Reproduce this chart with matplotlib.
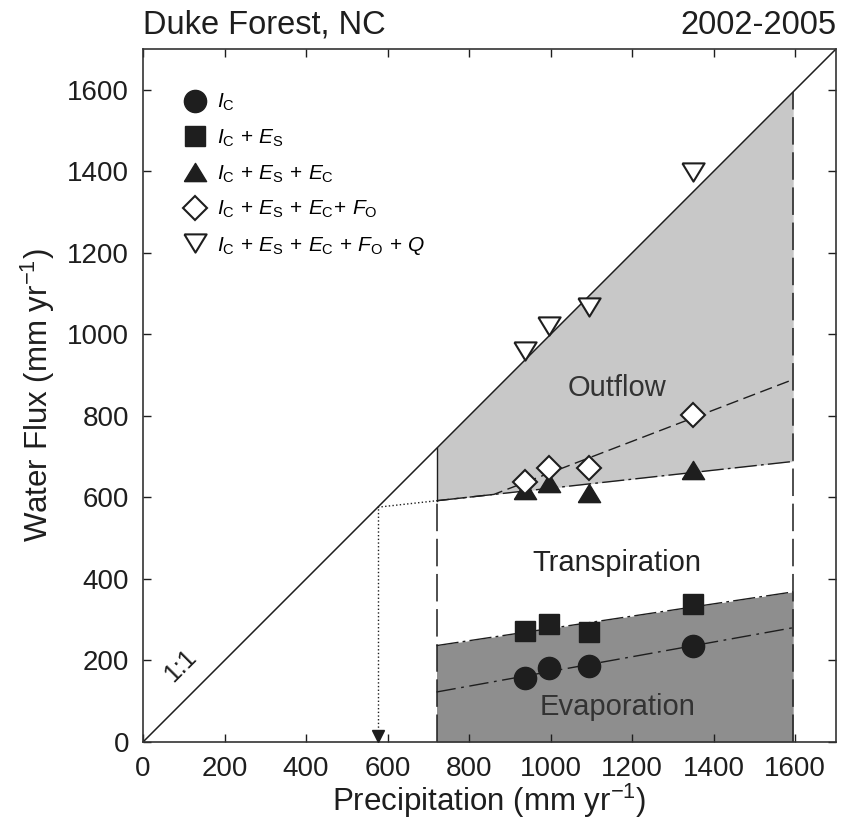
import numpy as np
import matplotlib
matplotlib.use("Agg")
import matplotlib.pyplot as plt
import matplotlib.transforms as mtransforms
from matplotlib.lines import Line2D

plt.rcParams['font.family'] = ['Liberation Sans', 'DejaVu Sans']
plt.rcParams['mathtext.fontset'] = 'custom'
plt.rcParams['mathtext.rm'] = 'Liberation Sans'
plt.rcParams['mathtext.it'] = 'Liberation Sans:italic'
plt.rcParams['mathtext.bf'] = 'Liberation Sans:bold'

# --- Data ---
precip = np.array([936, 995, 1094, 1349])          # mm/yr, 2002-2005
ic = np.array([156, 181, 187, 236])                # I_C
ic_es = np.array([273, 289, 271, 338])             # I_C + E_S
ic_es_ec = np.array([618, 636, 610, 668])          # + E_C
ic_es_ec_fo = np.array([639, 673, 673, 802])       # + F_O
ic_es_ec_fo_q = np.array([960, 1020, 1066, 1398])  # + Q

# long-term precipitation range
p_min, p_max = 720, 1595

labels = [r'$I_\mathrm{C}$',
          r'$I_\mathrm{C}\,+\,E_\mathrm{S}$',
          r'$I_\mathrm{C}\,+\,E_\mathrm{S}\,+\,E_\mathrm{C}$',
          r'$I_\mathrm{C}\,+\,E_\mathrm{S}\,+\,E_\mathrm{C}\!+\,F_\mathrm{O}$',
          r'$I_\mathrm{C}\,+\,E_\mathrm{S}\,+\,E_\mathrm{C}\,+\,F_\mathrm{O}\,+\,Q$']

ink = '#1e1e1e'
light_gray = '#c8c8c8'
dark_gray = '#8e8e8e'

def fit(y):
    b, a = np.polyfit(precip, y, 1)
    return lambda x: a + b * x

f_ic, f_es, f_ec, f_fo = fit(ic), fit(ic_es), fit(ic_es_ec), fit(ic_es_ec_fo)

fig = plt.figure(figsize=(8.46, 8.23), dpi=100)
ax = fig.add_axes([143/846, 1 - 742/823, 693/846, 693/823])

xs = np.linspace(p_min, p_max, 200)

# shaded regions
ax.fill_between(xs, 0, f_es(xs), color=dark_gray, lw=0, zorder=1)
ax.fill_between(xs, f_ec(xs), xs, color=light_gray, lw=0, zorder=1)

# 1:1 line
one = np.array([0, 1700])
ax.plot(one, one, color=ink, lw=1.1, zorder=2)

# range boundaries
ax.plot([p_min, p_min], [0, f_ec(p_min)], color=ink, lw=1.1, dashes=(18, 5), zorder=2)
ax.plot([p_min, p_min], [f_ec(p_min), p_min], color=ink, lw=1.0, zorder=2)
ax.plot([p_max, p_max], [0, p_max], color=ink, lw=1.1, dashes=(18, 5), zorder=2)

# regression lines
ax.plot(xs, f_ic(xs), color=ink, lw=1.0, dashes=(14, 4, 2, 4), zorder=2)
ax.plot(xs, f_es(xs), color=ink, lw=1.0, dashes=(16, 3, 2, 3), zorder=2)
ax.plot(xs, f_ec(xs), color=ink, lw=1.0, dashes=(16, 3, 2, 3), zorder=2)
ax.plot(xs, np.maximum(f_fo(xs), f_ec(xs)), color=ink, lw=1.0, dashes=(9, 4), zorder=2)

# extrapolation of E_C fit back to the 1:1 line
b_ec = f_ec(1) - f_ec(0)
p_cross = f_ec(0) / (1 - b_ec)
xd = np.array([p_cross, p_min])
ax.plot(xd, f_ec(xd), color=ink, lw=1.0, ls=':', zorder=2)
ax.plot([p_cross, p_cross], [0, p_cross], color=ink, lw=1.0, ls=':', zorder=2)
arrow_tr = mtransforms.offset_copy(ax.transData, fig=fig, y=4, units='points')
ax.plot([p_cross], [0], marker='v', ms=8, color=ink, transform=arrow_tr,
        clip_on=False, zorder=3)

# markers
tri_up = [(-1, -0.82), (1, -0.82), (0, 0.82), (-1, -0.82)]
tri_dn = [(-1, 0.82), (1, 0.82), (0, -0.82), (-1, 0.82)]
mstyle = [dict(marker='o', ms=16, mfc=ink, mec=ink),
          dict(marker='s', ms=14.5, mfc=ink, mec=ink),
          dict(marker=tri_up, ms=16, mfc=ink, mec=ink),
          dict(marker='D', ms=12.5, mfc='white', mec=ink, mew=1.5),
          dict(marker=tri_dn, ms=16, mfc='white', mec=ink, mew=1.5)]
series = [ic, ic_es, ic_es_ec, ic_es_ec_fo, ic_es_ec_fo_q]
for i, (ys, st) in enumerate(zip(series, mstyle)):
    ax.plot(precip, ys, ls='none', zorder=4 + i, **st)

# region labels
ax.text(1163, 869, 'Outflow', ha='center', va='center', fontsize=21, color='#333333', zorder=10)
ax.text(1163, 439, 'Transpiration', ha='center', va='center', fontsize=21, color='#222222', zorder=10)
ax.text(1163, 86, 'Evaporation', ha='center', va='center', fontsize=21, color='#333333', zorder=10)
ax.text(91, 186, '1:1', ha='center', va='center', rotation=45, fontsize=18, color=ink)

# legend
handles = [Line2D([], [], ls='none', **st) for st in mstyle]
ax.legend(handles, labels, loc='upper left', bbox_to_anchor=(0.061, 0.938),
          frameon=False, fontsize=15, handlelength=0.9, handletextpad=0.6,
          labelspacing=0.69, borderpad=0, borderaxespad=0, numpoints=1)

ax.set_xlim(0, 1700)
ax.set_ylim(0, 1700)
ax.set_xticks(np.arange(0, 1601, 200))
ax.set_yticks(np.arange(0, 1601, 200))
ax.tick_params(direction='in', top=True, right=True, length=6, width=1.0,
               labelsize=20, colors=ink, pad=10)
for s in ax.spines.values():
    s.set_linewidth(1.2)
    s.set_color('#333333')

ax.set_xlabel('Precipitation (mm yr$^{-1}$)', fontsize=22.5, labelpad=0, color=ink)
ax.set_ylabel('Water Flux (mm yr$^{-1}$)', fontsize=22.5, labelpad=7, color=ink)
ax.set_title('Duke Forest, NC', loc='left', fontsize=23.5, pad=11, color=ink)
ax.set_title('2002-2005', loc='right', fontsize=23.5, pad=11, color=ink)

fig.savefig('out.png', dpi=100)
